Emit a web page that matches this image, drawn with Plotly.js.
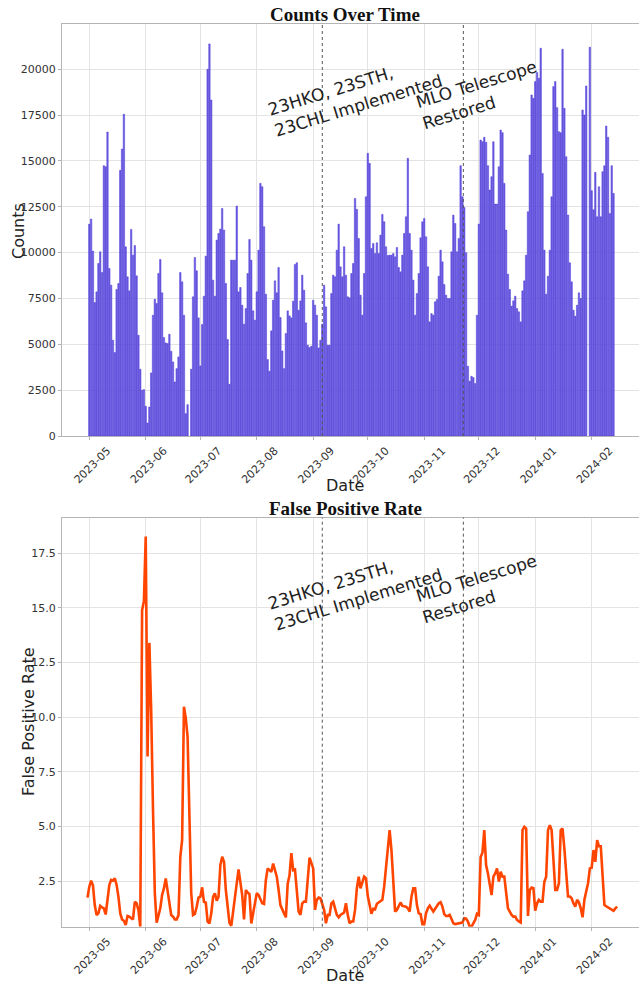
<!DOCTYPE html>
<html>
<head>
<meta charset="utf-8">
<script src="https://cdn.plot.ly/plotly-3.0.1.min.js"></script>
<style>html,body{margin:0;padding:0;overflow:hidden;background:#fff}</style>
</head>
<body>
<div id="chart" style="width:639px;height:987px"></div>
<script>
// ---- data ----
const startDate = '2023-05-01';            // day offset 0
// daily counts, one value per day from startDate (null = no data)
const dailyCounts = [
  11557, 11830, 10083, 7280, 7862, 9409, 10046, 8918, 14742, 14687,
  16580, 9136, 8226, 5223, 4550, 7990, 8317, 14487, 15652, 17545,
  10319, 8681, 7917, 11266, 9864, 10392, 8736, 5496, 3640, 2493,
  2530, 1620, 710, 1583, 3440, 6588, 7462, 7225, 8863, 9628,
  7808, 5369, 5078, 5041, 5551, 4623, 4040, 2948, 3676, 4313,
  8918, 8408, 6588, 1219, 1711, null,
  3640, 7590, 9737, 9009, 6443, 3822, 6079, 7626, 9810, 20002,
  21385, 18327, 8500, 7626, 10683, 11047, 11284, 12412, 11229, 8317,
  5260, 2821, 9591, 9591, 9591, 12540, 7862, 8099, 7134, 6097, 6952,
  8863, 10720, 9591, 6825, 6315, 7862, 10137, 13777, 13595, 11411,
  7735, 4168, 3530, 5733, 7407, 8463, 7808, 9191, 6461, 4641,
  3676, 5587, 6825, 6552, 6443, 7353, 9355, 9446, 6861, 7371,
  8772, 7953, 6170, 4950, 4823, 4896, 7407, 7134, 6588, 4805,
  5223, 6097, 8226, 7043, 4950, 4950,
  7771, 8772, 8681, 10137, 11557, 9227, 8681, 10319, 8772, 7590,
  7535, 8863, 9409, 12958, 12358, 10774, 7680, 6588, 8863, 13049,
  15415, 14869, 10228, 10501, 9955, 10537, 9955, 10956, 12085, 11684,
  10319, 9846, 9864, 9864, 9955, 9773, 10283, 9191, 8954, 9864,
  11047, 11957, 15142, 11047, 10137, 8500, 6588, 7771, 8863, 10811,
  11684, 11866, 10865, 9227, 6224, 6679, 6588, 7316, 7444, 8718,
  10137, 9500, 8263, 7680, 7498, 7498, 10046, 12048, 11593, 10046,
  10774, 14742, 13049, 12467, 10000, 3804,
  2985, 3258, 3185, 2857, 6588, 11557, 16143, 16052, 16289, 16016,
  14742, 13413, 14141, 16052, 12649, 12649, 14687, 16689, 16544, 13777,
  11229, 8827, 7990, 7080, 7371, 7626, 6952, 6770, 6224, 7917,
  8463, 9864, 12230, 15324, 18600, 18418, 19328, 19820, 19510, 21148,
  14323, 10137, 7735, 8718, 10137, 13049, 19055, 19328, 17909, 16598,
  16544, 21094, 17872, 15233, 12048, 9446, 8408, 6861, 6534, 7134,
  7808, 7498, 17781, 17508, 19092, null, 21203, 13377, 12340, 14378,
  11957, 13595, 11957, 14414, 14742, 16908, 16290, 12139, 14742, 13231
];
// false positive rate: day offsets from startDate and values
const fprDays = [
  -1, 0, 1, 2, 3, 4, 5, 6, 7, 8, 9, 10, 11, 12, 13, 14, 15, 16, 17, 18, 19,
  20, 21, 22, 23, 24, 25, 26, 27, 28, 29, 30, 31, 32, 33, 34, 35, 36, 37, 38, 39,
  40, 41, 42, 43, 44, 45, 46, 47, 48, 49, 50, 51, 52, 53, 54, 55, 56, 57, 58, 59,
  60, 61, 62, 63, 64, 65, 66, 67, 68, 69, 70, 71, 72, 73, 74, 75, 76, 77, 78, 79,
  80, 81, 82, 83, 84, 85, 86, 87, 88, 89,
  91, 92, 93, 95, 96, 97, 98, 99, 100, 101, 103, 104, 105, 107, 108, 109, 110,
  111, 112, 113, 114, 115, 116, 117, 118, 119, 121, 122, 123, 124, 125, 126, 127,
  129, 130, 131, 132, 133, 134, 135, 136, 137, 138, 140, 141, 142, 143, 144, 145,
  146, 147, 148, 149, 151, 152, 153, 154, 155, 156, 157, 158, 159, 160, 161, 162,
  164, 165, 166, 167, 168, 169, 170, 171, 172, 174, 175, 176, 177, 178, 179, 180,
  181, 182, 183, 184, 185, 186, 187, 188, 189, 190, 192, 193, 194, 195, 196, 197,
  198, 199, 200, 201, 203, 204, 205, 206, 207, 208, 209, 210, 211, 212, 213, 214,
  215, 216, 217, 218, 219, 220, 221, 222, 223, 224, 225, 226, 227, 228, 229, 230,
  232, 233, 234, 235, 236, 237, 238, 239, 240, 241, 242, 243, 244, 245, 246, 247,
  248, 249, 250, 251, 252, 253, 254, 255, 256, 257, 258, 259, 260, 261, 263, 264,
  265, 266, 267, 268, 269, 270, 271, 272, 274, 275, 276, 277, 278, 279, 280, 281,
  282, 283, 285, 286, 287, 288, 289, 290
];
const fprValues = [
  1.74, 2.24, 2.52, 2.3, 1.40, 0.94, 1.02, 1.36, 1.29, 1.25, 0.97, 1.63, 2.32, 2.55, 2.52, 2.62, 2.32, 1.78, 1.02, 0.74, 0.68,
  0.49, 0.90, 0.87, 0.79, 0.74, 1.55, 1.48, 1.17, 0.41, 14.9, 15.3, 18.27, 8.2, 13.4, 10.3, 5.75, 1.94, 0.59, 0.9, 1.25,
  1.86, 2.16, 2.62, 2.09, 1.48, 0.94, 0.87, 0.74, 0.74, 0.94, 3.61, 4.38, 10.48, 9.95, 9.1, 5.9, 1.94, 0.94, 0.99, 1.32,
  1.74, 1.78, 2.21, 1.55, 1.51, 0.64, 0.56, 1.02, 1.78, 1.94, 1.6, 1.78, 3.23, 3.61, 3.38, 2.09, 1.17, 0.59, 0.45, 1.17,
  1.94, 2.39, 3.03, 2.32, 1.86, 0.74, 2.09, 1.97, 1.9, 0.56,
  1.48, 1.94, 1.86, 1.48, 1.45, 2.55, 3.08, 3.0, 2.92, 3.3, 2.70, 2.09, 1.40, 1.02, 0.84, 2.38, 2.76,
  3.78, 3.0, 3.03, 2.09, 1.10, 0.95, 1.48, 1.56, 1.56, 3.57, 3.31, 3.08, 1.18, 1.64, 1.74, 1.71,
  1.18, 0.57, 0.95, 0.95, 1.48, 1.56, 1.25, 0.95, 0.84, 0.95, 1.06, 1.48, 0.95, 0.57, 0.65, 0.65,
  1.18, 2.17, 2.70, 2.17, 2.70, 2.62, 1.81, 1.33, 1.00, 1.23, 1.21, 1.46, 1.52, 1.56, 1.64, 2.24,
  3.92, 4.83, 3.92, 2.55, 1.10, 1.18, 1.33, 1.52, 1.36, 1.33, 1.25, 1.10, 1.79, 2.17, 2.17, 1.40,
  1.02, 0.99, 0.53, 0.53, 1.02, 1.25, 1.37, 1.25, 1.10, 1.23, 1.48, 1.53, 1.33, 0.99, 0.90, 0.90,
  0.95, 0.76, 0.57, 0.53, 0.57, 0.57, 0.60, 0.80, 0.78, 0.64, 0.42, 0.41, 0.57, 0.72, 1.0, 0.95,
  3.6, 3.8, 4.83, 3.23, 2.85, 2.32, 1.86, 2.7, 2.85, 3.08, 2.47, 2.93, 2.7, 2.7, 1.79, 1.25,
  0.95, 0.87, 0.87, 0.72, 0.65, 0.60, 4.83, 4.98, 4.9, 0.90, 2.09, 2.2, 2.17, 1.14, 1.48, 1.64,
  1.56, 1.56, 2.47, 2.70, 4.83, 5.06, 4.83, 3.38, 2.09, 2.09, 2.4, 4.83, 4.90, 3.98, 1.79, 1.79,
  1.71, 1.48, 1.33, 1.64, 1.52, 1.25, 0.84, 1.64, 2.40, 3.08, 3.11, 3.92, 3.38, 4.37, 4.09, 4.09,
  2.55, 1.40, 1.29, 1.23, 1.20, 1.14, 1.25, 1.33
];
const eventDates = ['2023-09-06', '2023-11-22 12:00'];
const eventLabels = ['23HKO, 23STH,<br>23CHL Implemented', 'MLO Telescope<br>Restored'];
const xTickStart = '2023-05-01';

// ---- helpers ----
const DAY = 86400000;
const t0 = Date.parse(startDate + 'T00:00:00Z');
const dayToDate = d => new Date(t0 + d * DAY).toISOString().slice(0, 10);
const barDates = dailyCounts.map((_, i) => dayToDate(i));
const fprDates = fprDays.map(dayToDate);

const W = 639, H = 987, L = 62;
const px = x => (x - L) / (W - L);
const py = y => 1 - y / H;

const FONT = 'DejaVu Sans, sans-serif';
const axisCommon = {
  type: 'date',
  range: ['2023-04-16', '2024-02-27'],
  tick0: xTickStart, dtick: 'M1', tickformat: '%Y-%m',
  tickangle: -45, ticklabelshift: 18, ticklabelstandoff: 0,
  tickfont: {family: FONT, size: 11, color: '#333'},
  showgrid: true, gridcolor: '#e3e3e3', gridwidth: 1,
  showline: true, linecolor: '#b5b5b5', linewidth: 1, mirror: true,
  ticks: 'outside', ticklen: 3, tickcolor: '#b5b5b5',
  zeroline: false, fixedrange: true
};
const yCommon = {
  tickfont: {family: FONT, size: 11, color: '#333'},
  showgrid: true, gridcolor: '#e3e3e3', gridwidth: 1,
  showline: true, linecolor: '#b5b5b5', linewidth: 1, mirror: false,
  ticks: 'outside', ticklen: 3, tickcolor: '#b5b5b5',
  zeroline: false, fixedrange: true
};

const traces = [
  {
    type: 'bar', x: barDates, y: dailyCounts, xaxis: 'x', yaxis: 'y',
    width: 0.8 * DAY,
    marker: {color: '#7262d9', line: {color: 'rgba(60,40,225,0.85)', width: 0.5}},
    hoverinfo: 'skip'
  },
  {
    type: 'scatter', mode: 'lines', x: fprDates, y: fprValues, xaxis: 'x2', yaxis: 'y2',
    line: {color: '#ff4500', width: 2.6},
    hoverinfo: 'skip'
  }
];

const shapes = [];
eventDates.forEach(d => {
  ['', '2'].forEach(s => {
    shapes.push({type: 'line', xref: 'x' + s, yref: 'y' + s + ' domain', x0: d, x1: d, y0: 0, y1: 1,
      line: {color: '#555', width: 1, dash: 'dot'}});
  });
});

const ann = [];
const txt = (text, x, y, opts) => ann.push(Object.assign({
  text, xref: 'paper', yref: 'paper', x: px(x), y: py(y), showarrow: false,
  xanchor: 'center', yanchor: 'middle', font: {family: FONT, size: 16, color: '#222'}
}, opts || {}));

txt('<b>Counts Over Time</b>', 345, 14, {font: {family: 'Liberation Serif, Times New Roman, serif', size: 19, color: '#111'}});
txt('<b>False Positive Rate</b>', 345, 508, {font: {family: 'Liberation Serif, Times New Roman, serif', size: 19, color: '#111'}});
txt('Date', 345, 485);
txt('Date', 345, 975);
txt('Counts', 18, 231, {textangle: -90});
txt('False Positive Rate', 28, 722, {textangle: -90});
const evX = [355, 479];
[95, 589].forEach(yy => {
  eventLabels.forEach((lab, i) => {
    txt(lab, evX[i], yy, {textangle: -17, align: 'left', font: {family: FONT, size: 17, color: '#222'}});
  });
});

const layout = {
  width: W, height: H,
  margin: {l: L, r: 0, t: 0, b: 0, pad: 0},
  paper_bgcolor: '#fff', plot_bgcolor: '#fff',
  showlegend: false, bargap: 0,
  xaxis: Object.assign({}, axisCommon, {anchor: 'y', domain: [0, 1]}),
  xaxis2: Object.assign({}, axisCommon, {anchor: 'y2', domain: [0, 1]}),
  yaxis: Object.assign({}, yCommon, {domain: [py(436), py(24)], range: [0, 22470], tick0: 0, dtick: 2500, tickformat: 'd'}),
  yaxis2: Object.assign({}, yCommon, {domain: [py(926.7), py(517.5)], range: [0.41, 19.14], tick0: 0, dtick: 2.5, tickformat: '.1f'}),
  shapes, annotations: ann
};

Plotly.newPlot('chart', traces, layout, {staticPlot: true, displayModeBar: false});
</script>
</body>
</html>
